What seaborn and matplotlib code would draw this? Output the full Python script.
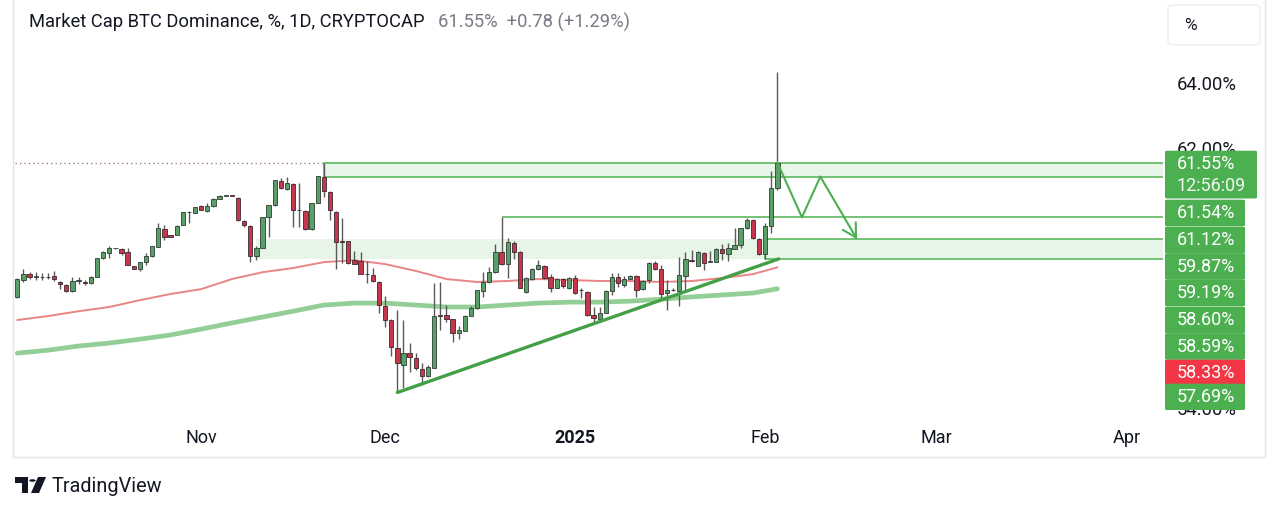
import numpy as np
import pandas as pd
import matplotlib
matplotlib.use("Agg")
import matplotlib.pyplot as plt
import matplotlib.dates as mdates
from matplotlib.patches import Rectangle, FancyBboxPatch, Polygon, Circle
from matplotlib.transforms import Bbox
import seaborn as sns

# ---------------- data ----------------
start_date = "2024-10-02"
opens = [57.42, 57.94, 58.12, 58.04, 58.02, 58.03, 58.06, 57.87, 57.78, 57.61,
         57.92, 57.89, 57.86, 58.04, 58.62, 58.78, 58.91, 58.88, 58.79, 58.38,
         58.29, 58.49, 58.68, 58.96, 59.50, 59.32, 59.31, 59.62, 60.02, 60.01,
         60.22, 60.05, 60.22, 60.44, 60.53, 60.53, 60.46, 59.76, 59.60, 58.68,
         58.94, 59.88, 60.24, 60.98, 60.75, 60.89, 60.09, 60.07, 59.50, 60.32,
         61.12, 60.66, 60.04, 59.14, 59.14, 58.55, 58.53, 58.12, 58.09, 57.89,
         57.14, 56.71, 55.86, 55.32, 55.68, 55.53, 55.19, 54.98, 55.24, 56.84,
         56.85, 56.73, 56.30, 56.38, 56.84, 57.08, 57.61, 57.87, 58.18, 58.81,
         58.42, 59.09, 58.81, 57.56, 57.97, 58.27, 58.37, 58.02, 57.70, 57.96,
         57.68, 58.01, 57.63, 57.56, 56.86, 56.75, 56.93, 57.61, 58.02, 57.78,
         57.98, 58.06, 57.65, 57.94, 58.45, 58.27, 57.53, 57.63, 57.60, 58.06,
         58.55, 58.38, 58.76, 58.50, 58.50, 58.88, 58.73, 58.89, 59.02, 59.53,
         59.78, 59.20, 58.74, 59.61, 60.77]
highs = [58.00, 58.27, 58.18, 58.19, 58.15, 58.15, 58.21, 57.91, 57.82, 58.02,
         58.03, 57.94, 58.05, 58.62, 58.82, 58.98, 58.94, 58.92, 58.91, 58.38,
         58.49, 58.76, 58.98, 59.68, 59.63, 59.34, 59.62, 60.03, 60.07, 60.20,
         60.24, 60.31, 60.46, 60.55, 60.55, 60.54, 60.48, 59.80, 59.62, 59.00,
         59.89, 60.26, 61.03, 61.08, 61.12, 60.92, 60.91, 60.09, 60.31, 61.15,
         61.54, 60.68, 60.06, 59.84, 59.15, 58.84, 58.81, 58.53, 58.32, 57.91,
         57.45, 56.74, 57.02, 56.71, 56.01, 55.70, 55.38, 55.32, 57.84, 57.89,
         57.17, 56.74, 56.52, 56.86, 57.14, 57.63, 58.19, 58.35, 59.05, 59.87,
         59.23, 59.14, 58.83, 58.03, 58.31, 58.55, 58.40, 58.14, 58.00, 58.00,
         58.03, 58.09, 57.68, 57.60, 57.11, 57.10, 57.63, 58.16, 58.16, 58.06,
         58.08, 58.09, 57.94, 58.50, 58.53, 58.40, 57.94, 57.69, 58.64, 58.81,
         58.86, 58.83, 58.80, 58.83, 58.92, 59.05, 59.09, 59.53, 59.54, 59.84,
         59.81, 59.22, 59.68, 61.29, 64.33]
lows = [57.38, 57.88, 57.97, 57.94, 57.95, 57.97, 57.92, 57.65, 57.58, 57.58,
        57.82, 57.80, 57.83, 58.03, 58.60, 58.62, 58.89, 58.71, 58.40, 58.28,
        58.22, 58.40, 58.66, 58.95, 59.17, 59.26, 59.31, 59.62, 59.70, 60.00,
        60.08, 60.03, 60.20, 60.43, 60.51, 60.51, 59.77, 59.56, 58.50, 58.55,
        58.94, 59.27, 60.23, 60.74, 60.72, 59.58, 59.58, 59.49, 59.49, 60.31,
        60.50, 59.78, 58.28, 58.45, 58.43, 58.42, 58.12, 57.84, 57.89, 56.93,
        56.48, 55.60, 54.48, 54.61, 55.12, 55.17, 54.71, 54.95, 55.23, 56.40,
        56.66, 56.04, 56.12, 56.37, 56.83, 57.06, 57.43, 57.85, 58.15, 58.40,
        58.00, 58.58, 57.69, 57.54, 57.94, 58.25, 57.97, 57.58, 57.69, 57.69,
        57.66, 57.51, 57.38, 56.83, 56.61, 56.72, 56.92, 57.48, 57.71, 57.71,
        57.97, 57.43, 57.63, 57.84, 58.26, 57.38, 57.02, 57.60, 57.14, 57.63,
        58.49, 58.37, 58.25, 58.48, 58.49, 58.55, 58.53, 58.88, 58.91, 59.52,
        59.21, 58.72, 58.60, 59.38, 60.70]
closes = [57.96, 58.12, 58.02, 58.05, 58.04, 58.02, 57.96, 57.81, 57.61, 57.91,
          57.94, 57.84, 58.02, 58.61, 58.79, 58.92, 58.92, 58.78, 58.41, 58.29,
          58.48, 58.68, 58.98, 59.53, 59.25, 59.27, 59.60, 60.02, 60.03, 60.18,
          60.09, 60.22, 60.42, 60.52, 60.54, 60.52, 59.78, 59.62, 58.68, 58.92,
          59.88, 60.24, 61.02, 60.77, 60.91, 60.09, 60.08, 59.51, 60.30, 61.14,
          60.68, 60.09, 59.12, 59.12, 58.45, 58.43, 58.14, 58.11, 57.91, 57.17,
          56.71, 55.89, 55.39, 55.70, 55.56, 55.22, 54.98, 55.27, 56.84, 56.83,
          56.73, 56.32, 56.40, 56.84, 57.07, 57.62, 57.87, 58.18, 58.81, 58.42,
          59.10, 58.81, 57.70, 57.99, 58.27, 58.40, 57.99, 57.70, 57.96, 57.75,
          58.01, 57.53, 57.62, 56.86, 56.76, 56.93, 57.61, 58.02, 57.84, 57.98,
          58.06, 57.63, 57.91, 58.45, 58.28, 57.51, 57.63, 57.62, 58.09, 58.58,
          58.54, 58.80, 58.47, 58.51, 58.90, 58.76, 58.91, 59.02, 59.53, 59.78,
          59.22, 58.74, 59.61, 60.77, 61.55]

ma_days = [0, 5, 10, 15, 20, 25, 30, 35, 40, 45, 50, 55, 60, 65, 70, 75, 80,
           85, 90, 95, 100, 105, 110, 115, 120, 124]
ma_fast = [56.71, 56.83, 56.98, 57.11, 57.32, 57.51, 57.66, 57.97, 58.18, 58.31,
           58.49, 58.55, 58.43, 58.22, 57.97, 57.88, 57.91, 57.97, 57.94, 57.91,
           57.91, 57.88, 57.91, 58.00, 58.12, 58.33]
ma_slow = [55.69, 55.78, 55.91, 56.00, 56.12, 56.25, 56.43, 56.62, 56.80, 56.98,
           57.17, 57.23, 57.23, 57.17, 57.11, 57.11, 57.17, 57.23, 57.26, 57.26,
           57.29, 57.35, 57.42, 57.48, 57.54, 57.67]

# drawn objects: (start day, levels)
zone_upper = (50, 61.54, 61.12)
res_line = (79, 59.87)
zone_lower_faint = (39, 59.19, 58.60)
zone_lower = (122, 59.19, 58.60)
trend_days = [62, 124.2]
trend_levels = [54.48, 58.59]
proj_days = [124, 128, 131, 137]
proj_levels = [61.55, 59.87, 61.12, 59.19]

last_price = 61.55
countdown = "12:56:09"
scale_levels = [61.54, 61.12, 59.87, 59.19, 58.60, 58.59, 58.33, 57.69]
scale_colors = ["#4caf50"] * 6 + ["#f23645", "#4caf50"]
yticks = [54, 62, 64]          # the 56/58/60 ticks are hidden behind the labels
month_ticks = ["2024-11-01", "2024-12-01", "2025-01-01", "2025-02-01",
               "2025-03-01", "2025-04-01"]
month_labels = ["Nov", "Dec", "2025", "Feb", "Mar", "Apr"]

# ---------------- style ----------------
sns.set_theme(style="white")
plt.rcParams["font.family"] = ["Roboto", "DejaVu Sans"]

W, H = 1280, 512
fig = plt.figure(figsize=(W / 100, H / 100), dpi=100)
fig.patch.set_facecolor("white")


def fx(px):
    return px / W


def fy(py):
    return 1 - py / H


ax = fig.add_axes([fx(15), fy(425), fx(1163) - fx(15), fy(45) - fy(425)])
ax.set_facecolor("white")

dates = pd.date_range(start_date, periods=len(opens), freq="D")
xs = mdates.date2num(dates)
x0 = xs[0]

o = np.array(opens)
c = np.array(closes)
hi = np.array(highs)
lo = np.array(lows)
up = c >= o

xmax = x0 + 186.9
ax.set_xlim(x0 - 0.375, xmax)
ax.set_ylim(53.48, 65.17)

# last price dotted line
ax.axhline(last_price, color="#9c7b70", lw=1, ls=(0, (1, 2.2)), zorder=1)

# zones
ax.add_patch(Rectangle((x0 + zone_lower_faint[0], zone_lower_faint[2]),
                       zone_lower[0] - zone_lower_faint[0],
                       zone_lower_faint[1] - zone_lower_faint[2],
                       facecolor="#e7f4e8", edgecolor="none", zorder=1))
for z in (zone_upper, zone_lower):
    ax.add_patch(Rectangle((x0 + z[0], z[2]), xmax - (x0 + z[0]) + 1, z[1] - z[2],
                           facecolor="#e8f5e9", edgecolor="#5cb860", lw=1.2, zorder=2))
ax.hlines(res_line[1], x0 + res_line[0], xmax + 1, color="#5cb860", lw=1.2, zorder=2)

# moving averages
sns.lineplot(x=x0 + np.array(ma_days), y=ma_slow, ax=ax, color="#86c98a",
             lw=3.4, alpha=0.9, zorder=2)
sns.lineplot(x=x0 + np.array(ma_days), y=ma_fast, ax=ax, color="#e88585",
             lw=1.4, zorder=2)

# candles
ax.vlines(xs, lo, hi, color="#5a5a5a", lw=1.0, zorder=3)
body_h = np.maximum(np.abs(c - o), 0.025)
body_b = np.minimum(o, c)
ax.bar(xs[up], body_h[up], bottom=body_b[up], width=0.7, color="#58a068",
       edgecolor="#2f3d33", lw=0.6, zorder=4)
ax.bar(xs[~up], body_h[~up], bottom=body_b[~up], width=0.7, color="#c8364e",
       edgecolor="#3a2a2d", lw=0.6, zorder=4)

# trend line
ax.plot(x0 + np.array(trend_days), trend_levels, color="#43a047", lw=2.4,
        solid_capstyle="round", zorder=5)

# projection path
pdx = x0 + np.array(proj_days)
ax.plot(pdx[:-1], proj_levels[:-1], color="#4caf50", lw=1.5, zorder=5)
ax.annotate("", xy=(pdx[-1], proj_levels[-1]), xytext=(pdx[-2], proj_levels[-2]),
            arrowprops=dict(arrowstyle="->,head_length=0.8,head_width=0.45",
                            color="#4caf50", lw=1.5, shrinkA=0, shrinkB=0),
            zorder=5)

# axes ticks
for s in ax.spines.values():
    s.set_visible(False)
ax.yaxis.tick_right()
ax.set_yticks(yticks)
ax.set_yticklabels([f"{v:.2f}%" for v in yticks])
ax.tick_params(axis="y", length=0, pad=10, labelsize=13.3, labelcolor="#131722")
ax.set_xticks(mdates.date2num(pd.to_datetime(month_ticks)))
ax.set_xticklabels(month_labels)
ax.tick_params(axis="x", length=0, pad=3, labelsize=13, labelcolor="#131722")
for lbl in ax.get_xticklabels():
    if lbl.get_text() == "2025":
        lbl.set_fontweight("bold")
clip = Bbox.from_extents(1160, H - 415, W, H - 40)
for lbl in ax.get_yticklabels():
    lbl.set_clip_on(True)
    lbl.set_clip_box(clip)
ax.grid(False)

# frame
fig.add_artist(Rectangle((fx(13), fy(457)), fx(1265) - fx(13), fy(-2) - fy(457),
                         transform=fig.transFigure, fill=False,
                         edgecolor="#e3e5ea", lw=1, zorder=0))


# price scale labels
def label_box(y0, y1, col, x1=1245):
    fig.add_artist(FancyBboxPatch((fx(1165), fy(y1)), fx(x1) - fx(1165), fy(y0) - fy(y1),
                                  boxstyle="round,pad=0,rounding_size=0.002",
                                  transform=fig.transFigure, facecolor=col,
                                  edgecolor="none", zorder=10))


label_box(150.7, 198.5, "#4caf50", 1257)
fig.text(fx(1177), fy(164), f"{last_price:.2f}%", color="white", fontsize=13,
         va="center", ha="left", zorder=11)
fig.text(fx(1177), fy(186), countdown, color="#eef8ee", fontsize=13,
         va="center", ha="left", zorder=11)
centers = [213, 240, 266.5, 293, 320, 346.5, 373, 397]
for lv, cl, cy in zip(scale_levels, scale_colors, centers):
    label_box(cy - 13.3, min(cy + 13.3, 410), cl)
    fig.text(fx(1177), fy(cy), f"{lv:.2f}%", color="white", fontsize=13,
             va="center", ha="left", zorder=11)

# header
fig.text(fx(29), fy(22), "Market Cap BTC Dominance, %, 1D, CRYPTOCAP",
         color="#131722", fontsize=13.2, va="center", ha="left")
fig.text(fx(438), fy(22), "61.55%  +0.78 (+1.29%)", color="#787b86",
         fontsize=13.2, va="center", ha="left")
fig.add_artist(FancyBboxPatch((fx(1168), fy(45)), fx(1260) - fx(1168), fy(5) - fy(45),
                              boxstyle="round,pad=0,rounding_size=0.006",
                              transform=fig.transFigure, facecolor="white",
                              edgecolor="#eceef2", lw=1, zorder=3))
fig.text(fx(1190), fy(25), "%", color="#131722", fontsize=12.5, va="center",
         ha="center", zorder=4)

# TradingView logo
fig.add_artist(Polygon([(fx(15), fy(477)), (fx(28), fy(477)), (fx(28), fy(493)),
                        (fx(22), fy(493)), (fx(22), fy(483)), (fx(15), fy(483))],
                       closed=True, transform=fig.transFigure, facecolor="#131722",
                       edgecolor="none"))
fig.add_artist(Circle((fx(32.5), fy(480.5)), 3.2 / W, transform=fig.transFigure,
                      facecolor="#131722", edgecolor="none"))
fig.add_artist(Polygon([(fx(38), fy(477)), (fx(46), fy(477)), (fx(39), fy(493)),
                        (fx(31), fy(493))], closed=True, transform=fig.transFigure,
                       facecolor="#131722", edgecolor="none"))
fig.text(fx(52), fy(486), "TradingView", color="#131722", fontsize=14.3,
         va="center", ha="left")

fig.savefig("out.png", dpi=100, facecolor="white")
